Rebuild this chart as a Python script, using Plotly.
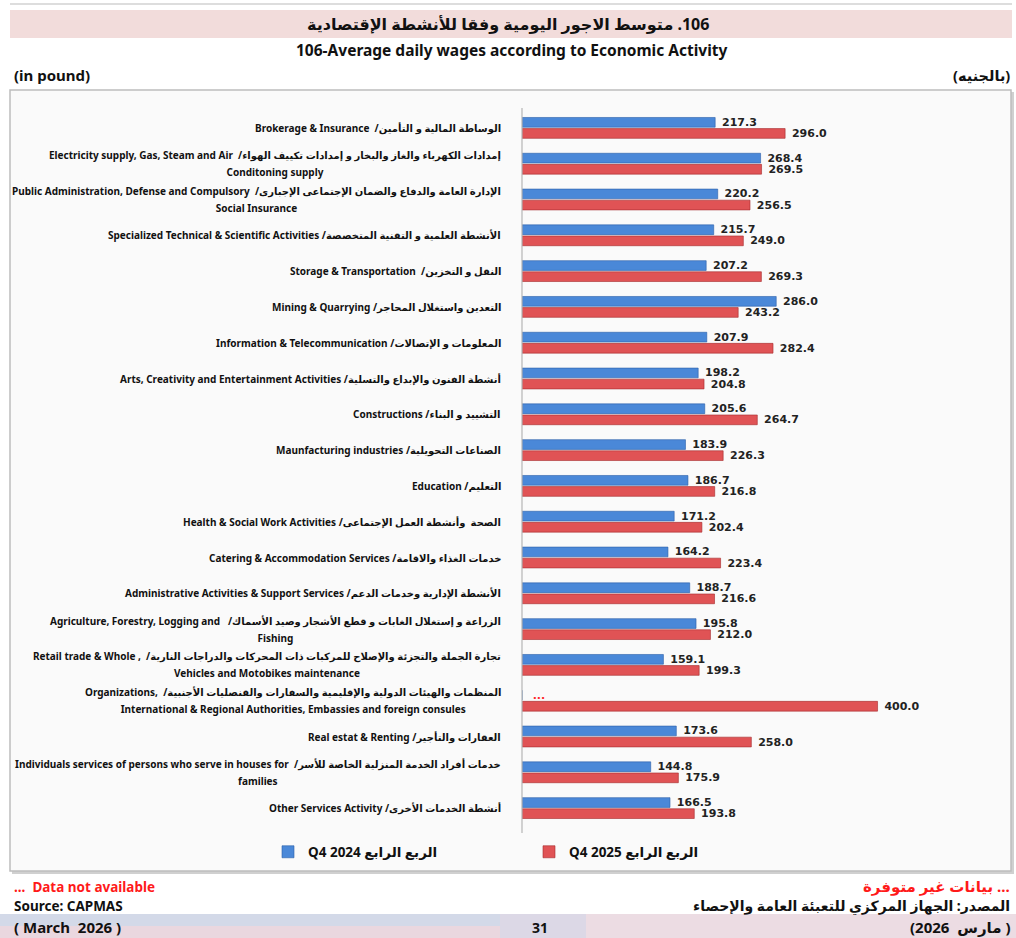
import plotly.graph_objects as go

# ---------------- data ----------------
en_line1 = [
    "Brokerage & Insurance  ",
    "Electricity supply, Gas, Steam and Air  ",
    "Public Administration, Defense and Compulsory  ",
    "Specialized Technical & Scientific Activities ",
    "Storage & Transportation  ",
    "Mining & Quarrying ",
    "Information & Telecommunication ",
    "Arts, Creativity and Entertainment Activities ",
    "Constructions ",
    "Maunfacturing industries ",
    "Education ",
    "Health & Social Work Activities ",
    "Catering & Accommodation Services ",
    "Administrative Activities & Support Services ",
    "Agriculture, Forestry, Logging and   ",
    "Retail trade & Whole ,  ",
    "Organizations,  ",
    "Real estat & Renting ",
    "Individuals services of persons who serve in houses for  ",
    "Other Services Activity ",
]
ar_names = [
    "الوساطة المالية و التأمين",
    "إمدادات الكهرباء والغاز والبخار و إمدادات تكييف الهواء",
    "الإدارة العامة والدفاع والضمان الإجتماعى الإجبارى",
    "الأنشطة العلمية و التقنية المتخصصة",
    "النقل و التخزين",
    "التعدين واستغلال المحاجر",
    "المعلومات و الإتصالات",
    "أنشطة الفنون والإبداع والتسلية",
    "التشييد و البناء",
    "الصناعات التحويلية",
    "التعليم",
    "الصحة  وأنشطة العمل الإجتماعى",
    "خدمات الغذاء والاقامة",
    "الأنشطة الإدارية وخدمات الدعم",
    "الزراعة و إستغلال الغابات و قطع الأشجار وصيد الأسماك",
    "تجارة الجملة والتجزئة والإصلاح للمركبات ذات المحركات والدراجات النارية",
    "المنظمات والهيئات الدولية والإقليمية والسفارات والقنصليات الأجنبية",
    "العقارات والتأجير",
    "خدمات أفراد الخدمة المنزلية الخاصة للأسر",
    "أنشطة الخدمات الأخرى",
]
en_line2 = [
    "", "Conditoning supply", "Social Insurance", "", "", "", "", "", "", "",
    "", "", "", "", "Fishing", "Vehicles and Motobikes maintenance",
    "International & Regional Authorities, Embassies and foreign consules",
    "", "families", "",
]
q4_2024 = [217.3, 268.4, 220.2, 215.7, 207.2, 286.0, 207.9, 198.2, 205.6, 183.9,
           186.7, 171.2, 164.2, 188.7, 195.8, 159.1, None, 173.6, 144.8, 166.5]
q4_2025 = [296.0, 269.5, 256.5, 249.0, 269.3, 243.2, 282.4, 204.8, 264.7, 226.3,
           216.8, 202.4, 223.4, 216.6, 212.0, 199.3, 400.0, 258.0, 175.9, 193.8]
series_names = ["Q4 2024 الربع الرابع", "Q4 2025 الربع الرابع"]

cats = [f"c{i}" for i in range(len(ar_names))]

# ---------------- geometry helpers ----------------
W, H = 1016, 938
L, R, T, B = 522, 14, 110, 112
PW, PH = W - L - R, H - T - B

def px(xp):
    return (xp - L) / PW

def py(yp):
    return (H - B - yp) / PH

BLUE, BLUE_D = "#4a88d8", "#2a5ea8"
RED, RED_D = "#e05355", "#a52a2c"
NB = "\u00a0"

fig = go.Figure()

blue_x = [v if v is not None else 0 for v in q4_2024]
blue_txt = [NB + (f"{v:.1f}" if v is not None else NB + "...") for v in q4_2024]
blue_tc = ["#222222" if v is not None else "#ff2a2a" for v in q4_2024]

fig.add_trace(go.Bar(
    y=cats, x=blue_x, orientation="h", name=series_names[0],
    marker=dict(color=BLUE, line=dict(color=BLUE_D, width=0.6)),
    text=blue_txt, textposition="outside", cliponaxis=False,
    constraintext="none",
    textfont=dict(family="DejaVu Sans", size=11, color=blue_tc, weight="bold"),
    hoverinfo="skip",
))
fig.add_trace(go.Bar(
    y=cats, x=q4_2025, orientation="h", name=series_names[1],
    marker=dict(color=RED, line=dict(color=RED_D, width=0.6)),
    text=[NB + f"{v:.1f}" for v in q4_2025], textposition="outside", cliponaxis=False,
    constraintext="none",
    textfont=dict(family="DejaVu Sans", size=11, color="#222222", weight="bold"),
    hoverinfo="skip",
))

shapes = []
shapes.append(dict(type="line", xref="paper", yref="paper",
                   x0=px(10), x1=px(1012), y0=py(4), y1=py(4),
                   line=dict(color="#bbbbbb", width=1), layer="below"))
shapes.append(dict(type="rect", xref="paper", yref="paper",
                   x0=px(10), x1=px(1012), y0=py(38), y1=py(10),
                   fillcolor="#f2dcdb", line=dict(width=0), layer="below"))
shapes.append(dict(type="rect", xref="paper", yref="paper",
                   x0=px(12), x1=px(1014), y0=py(874), y1=py(92),
                   fillcolor="#d0d0d0", line=dict(width=0), layer="below"))
shapes.append(dict(type="rect", xref="paper", yref="paper",
                   x0=px(10), x1=px(1011), y0=py(871), y1=py(90),
                   fillcolor="#fafafa", line=dict(color="#bdbdbd", width=1.5), layer="below"))
shapes.append(dict(type="rect", xref="paper", yref="paper",
                   x0=px(0), x1=px(1016), y0=py(938), y1=py(926),
                   fillcolor="#ead7df", line=dict(width=0), layer="below"))
shapes.append(dict(type="rect", xref="paper", yref="paper",
                   x0=px(0), x1=px(1016), y0=py(926), y1=py(914),
                   fillcolor="#d3d9e8", line=dict(width=0), layer="below"))
shapes.append(dict(type="rect", xref="paper", yref="paper",
                   x0=px(500), x1=px(586), y0=py(938), y1=py(914),
                   fillcolor="#dcd8e6", line=dict(width=0), layer="below"))
shapes.append(dict(type="rect", xref="paper", yref="paper",
                   x0=px(586), x1=px(1016), y0=py(938), y1=py(914),
                   fillcolor="#ecdce3", line=dict(width=0), layer="below"))

annotations = []
LBL = "Noto Sans, DejaVu Sans"
LS = "font-size:10px"
for c, e1, a, e2 in zip(cats, en_line1, ar_names, en_line2):
    line1 = f"<span style='{LS}'>{e1}/{a}</span>"
    txt = line1 if not e2 else line1 + f"<br><span style='{LS}'>{e2}</span>"
    annotations.append(dict(
        xref="paper", yref="y", x=px(503), y=c, xanchor="right", yanchor="middle",
        text=txt, showarrow=False, align="center",
        font=dict(family=LBL, size=12.8, color="#111111", weight="bold"),
    ))

def txt(x, y, s, size, color="#111111", xanchor="center", family="Noto Sans, DejaVu Sans", weight="bold"):
    annotations.append(dict(xref="paper", yref="paper", x=px(x), y=py(y),
                            xanchor=xanchor, yanchor="middle", text=s, showarrow=False,
                            font=dict(family=family, size=size, color=color, weight=weight)))

COND = "Liberation Sans Narrow, Noto Sans, DejaVu Sans"
txt(508, 24, "\u200F106. متوسط الاجور اليومية وفقا للأنشطة الإقتصادية", 16, family=COND)
txt(512, 50, "106-Average daily wages according to Economic Activity", 15.5, family=COND)
txt(12, 75, "(in pound)", 15, xanchor="left", family=COND)
txt(1012, 75, "(بالجنيه)", 14.5, xanchor="right", family=COND)
txt(12, 887, "...  Data not available", 13.5, color="#ff1a1a", xanchor="left", family=COND)
txt(1012, 886, "بيانات غير متوفرة ...", 15, color="#ff1a1a", xanchor="right", family=COND)
txt(12, 905.5, "Source: CAPMAS", 13.5, xanchor="left", family=COND)
txt(1012, 906, "المصدر: الجهاز المركزي للتعبئة العامة والإحصاء", 14, xanchor="right", family=COND)
txt(12, 927, f"({NB}March{NB}{NB}2026{NB})", 15, xanchor="left", family=COND)
txt(540, 927, "31", 14, family=COND)
txt(1012, 927, f"(2026{NB}{NB}مارس{NB})", 15, xanchor="right", family=COND)

fig.update_layout(
    width=W, height=H,
    margin=dict(l=L, r=R, t=T, b=B, pad=0),
    paper_bgcolor="white", plot_bgcolor="rgba(0,0,0,0)",
    barmode="group", bargap=0.38, bargroupgap=0.12,
    showlegend=True,
    legend=dict(orientation="h", x=px(268), y=py(852), xanchor="left", yanchor="middle",
                entrywidth=216, entrywidthmode="pixels", bgcolor="rgba(0,0,0,0)",
                font=dict(family=COND, size=13.5, color="#111111", weight="bold"),
                itemclick=False, itemdoubleclick=False),
    xaxis=dict(range=[0, 540], showgrid=False, zeroline=False, showticklabels=False,
               showline=False, fixedrange=True),
    yaxis=dict(categoryorder="array", categoryarray=cats, autorange="reversed",
               showticklabels=False, showgrid=False, zeroline=False,
               showline=False, fixedrange=True),
    shapes=shapes + [dict(type="line", xref="paper", yref="paper",
                          x0=0, x1=0, y0=py(833), y1=py(108),
                          line=dict(color="#b5b5b5", width=1.2))],
    annotations=annotations,
)

fig.write_html("out.html")
